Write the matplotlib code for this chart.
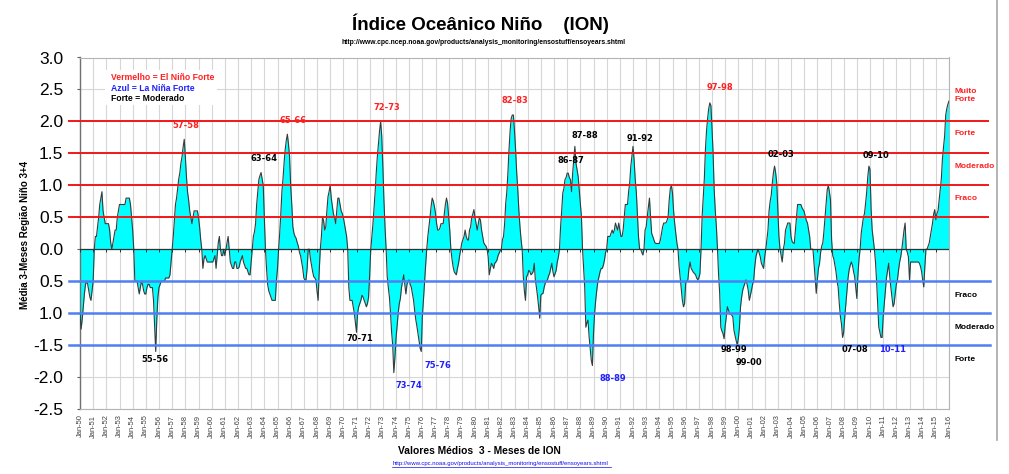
import numpy as np
import matplotlib
matplotlib.use("Agg")
import matplotlib.pyplot as plt
import matplotlib.transforms as mtransforms
from matplotlib.patches import Rectangle
from matplotlib.lines import Line2D

# 3-month running mean ONI, one value per month (Jan-50 ... Jan-16)
oni_1950s = [
    -1.0, -1.25, -1.1, -0.9, -0.7, -0.55, -0.5, -0.55, -0.65, -0.75, -0.8, -0.65,
    -0.5, 0.0, 0.2, 0.2, 0.35, 0.5, 0.7, 0.8, 0.9, 0.6, 0.5, 0.4,
    0.4, 0.4, 0.4, 0.3, 0.1, 0.0, 0.1, 0.2, 0.3, 0.3, 0.5, 0.6,
    0.7, 0.7, 0.7, 0.7, 0.7, 0.7, 0.8, 0.8, 0.8, 0.8, 0.7, 0.5,
    0.3, 0.0, -0.5, -0.5, -0.5, -0.6, -0.7, -0.6, -0.5, -0.55, -0.65, -0.7,
    -0.7, -0.6, -0.55, -0.55, -0.6, -0.6, -0.6, -0.8, -1.2, -1.6, -1.1, -0.75,
    -0.6, -0.55, -0.5, -0.5, -0.5, -0.5, -0.45, -0.45, -0.45, -0.45, -0.4, -0.2,
    0.0, 0.2, 0.45, 0.7, 0.8, 0.95, 1.1, 1.2, 1.35, 1.45, 1.6, 1.72,
    1.45, 1.14, 0.9, 0.77, 0.6, 0.5, 0.4, 0.5, 0.6, 0.6, 0.6, 0.6,
    0.5, 0.35, 0.15, 0.0, -0.3, -0.15, -0.1, -0.15, -0.2, -0.2, -0.2, -0.2,
]
oni_1960s = [
    -0.2, -0.2, -0.15, -0.1, -0.3, -0.1, 0.1, 0.2, 0.0, -0.1, -0.1, 0.0,
    -0.1, 0.0, 0.1, 0.2, 0.0, -0.2, -0.25, -0.3, -0.3, -0.2, -0.2, -0.3,
    -0.3, -0.28, -0.2, -0.15, -0.1, -0.2, -0.25, -0.3, -0.3, -0.35, -0.4, -0.4,
    -0.2, 0.0, 0.2, 0.27, 0.4, 0.7, 0.9, 1.09, 1.15, 1.2, 1.1, 1.0,
    0.5, 0.0, -0.3, -0.55, -0.65, -0.7, -0.75, -0.8, -0.8, -0.8, -0.8, -0.5,
    -0.3, 0.0, 0.25, 0.55, 0.9, 1.1, 1.35, 1.56, 1.7, 1.8, 1.65, 1.45,
    1.0, 0.7, 0.35, 0.25, 0.2, 0.17, 0.1, 0.05, -0.05, -0.1, -0.2, -0.3,
    -0.45, -0.48, -0.48, -0.3, 0.0, 0.0, -0.15, -0.25, -0.35, -0.43, -0.45, -0.48,
    -0.65, -0.8, -0.35, 0.0, 0.2, 0.5, 0.45, 0.3, 0.35, 0.6, 0.82, 0.9,
    1.0, 0.8, 0.67, 0.55, 0.5, 0.4, 0.6, 0.8, 0.8, 0.7, 0.6, 0.56,
]
oni_1970s = [
    0.5, 0.4, 0.3, 0.2, 0.0, -0.6, -0.8, -0.8, -0.8, -0.9, -1.0, -1.15,
    -1.3, -1.0, -0.9, -0.85, -0.8, -0.72, -0.75, -0.8, -0.85, -0.9, -0.85, -0.75,
    -0.4, 0.0, 0.2, 0.4, 0.65, 0.9, 1.2, 1.45, 1.65, 1.85, 2.0, 1.77,
    1.3, 0.77, 0.35, 0.0, -0.43, -0.6, -0.75, -1.0, -1.3, -1.5, -1.93, -1.7,
    -1.4, -1.2, -1.0, -0.85, -0.77, -0.6, -0.5, -0.4, -0.55, -0.7, -0.55, -0.5,
    -0.48, -0.55, -0.6, -0.7, -0.8, -0.96, -1.1, -1.2, -1.32, -1.45, -1.55, -1.6,
    -1.06, -0.8, -0.53, -0.25, 0.0, 0.2, 0.35, 0.5, 0.67, 0.8, 0.75, 0.67,
    0.56, 0.4, 0.3, 0.3, 0.33, 0.4, 0.4, 0.4, 0.55, 0.7, 0.8, 0.72,
    0.5, 0.3, 0.0, -0.15, -0.27, -0.35, -0.38, -0.4, -0.3, -0.22, -0.1, 0.0,
    0.1, 0.15, 0.2, 0.3, 0.2, 0.15, 0.14, 0.3, 0.35, 0.5, 0.55, 0.62,
]
oni_1980s = [
    0.5, 0.4, 0.3, 0.4, 0.5, 0.45, 0.3, 0.2, 0.1, 0.07, 0.05, 0.0,
    -0.12, -0.4, -0.3, -0.22, -0.25, -0.3, -0.22, -0.2, -0.17, -0.1, -0.06, -0.02,
    0.0, 0.15, 0.2, 0.4, 0.72, 0.9, 1.2, 1.56, 1.85, 2.05, 2.1, 2.1,
    1.85, 1.56, 1.2, 0.93, 0.6, 0.35, 0.15, 0.0, -0.43, -0.65, -0.8, -0.43,
    -0.4, -0.33, -0.35, -0.4, -0.38, -0.35, -0.22, -0.48, -0.6, -0.74, -0.9, -1.08,
    -0.72, -0.7, -0.69, -0.6, -0.53, -0.5, -0.48, -0.42, -0.38, -0.3, -0.22, -0.35,
    -0.43, -0.38, -0.33, -0.2, -0.12, 0.0, 0.35, 0.6, 0.88, 0.95, 1.09, 1.12,
    1.19, 1.19, 1.12, 1.09, 0.9, 1.19, 1.4, 1.61, 1.35, 1.25, 1.14, 0.93,
    0.7, 0.51, 0.0, -0.3, -0.6, -1.22, -1.15, -1.11, -1.37, -1.55, -1.74, -1.82,
    -1.32, -1.0, -0.8, -0.64, -0.5, -0.43, -0.35, -0.3, -0.3, -0.25, -0.17, -0.05,
]
oni_1990s = [
    0.0, 0.2, 0.2, 0.2, 0.25, 0.3, 0.25, 0.3, 0.41, 0.35, 0.3, 0.41,
    0.3, 0.2, 0.2, 0.3, 0.51, 0.7, 0.7, 0.7, 0.9, 1.04, 1.3, 1.45,
    1.61, 1.4, 1.1, 0.9, 0.56, 0.2, 0.0, 0.0, -0.05, -0.09, 0.0, 0.3,
    0.35, 0.51, 0.65, 0.8, 0.51, 0.25, 0.2, 0.15, 0.1, 0.09, 0.09, 0.09,
    0.09, 0.15, 0.25, 0.35, 0.41, 0.41, 0.41, 0.45, 0.51, 0.77, 0.95, 1.0,
    0.88, 0.6, 0.4, 0.25, 0.1, 0.0, -0.27, -0.45, -0.64, -0.8, -0.9, -0.85,
    -0.53, -0.5, -0.48, -0.3, -0.2, -0.3, -0.33, -0.36, -0.38, -0.4, -0.45, -0.48,
    -0.45, -0.38, 0.0, 0.51, 0.8, 1.1, 1.56, 1.85, 2.05, 2.2, 2.29, 2.25,
    1.9, 1.5, 0.93, 0.6, 0.35, 0.0, -0.4, -0.69, -1.22, -1.28, -1.32, -1.4,
    -1.2, -1.06, -0.9, -0.95, -1.01, -1.01, -1.03, -1.06, -1.27, -1.35, -1.43, -1.5,
]
oni_2000s = [
    -1.4, -1.22, -0.9, -0.75, -0.64, -0.58, -0.53, -0.48, -0.55, -0.64, -0.8, -0.72,
    -0.64, -0.55, -0.48, -0.27, -0.12, -0.05, 0.0, -0.06, -0.12, -0.22, -0.26, -0.3,
    -0.12, 0.0, 0.15, 0.3, 0.6, 0.75, 0.85, 1.04, 1.2, 1.3, 1.2, 1.04,
    0.62, 0.2, 0.0, -0.1, -0.2, 0.0, 0.09, 0.3, 0.35, 0.41, 0.41, 0.41,
    0.2, 0.12, 0.1, 0.09, 0.3, 0.5, 0.7, 0.7, 0.7, 0.7, 0.65, 0.62,
    0.59, 0.51, 0.45, 0.41, 0.3, 0.2, 0.0, 0.0, 0.0, -0.22, -0.45, -0.69,
    -0.48, -0.3, -0.22, -0.05, 0.05, 0.1, 0.28, 0.5, 0.7, 0.93, 1.0, 0.9,
    0.77, 0.15, -0.1, -0.15, -0.25, -0.35, -0.5, -0.6, -0.85, -1.05, -1.17, -1.38,
    -1.3, -1.06, -0.85, -0.64, -0.45, -0.32, -0.25, -0.2, -0.25, -0.35, -0.43, -0.6,
    -0.77, -0.4, -0.15, 0.0, 0.25, 0.38, 0.5, 0.56, 0.72, 0.9, 1.14, 1.3,
]
oni_2010s = [
    1.25, 0.62, 0.3, 0.15, 0.0, -0.2, -0.5, -0.85, -1.22, -1.3, -1.38, -1.38,
    -1.06, -0.85, -0.64, -0.45, -0.33, -0.22, -0.43, -0.6, -0.75, -0.9, -0.85, -0.69,
    -0.55, -0.48, -0.33, -0.2, -0.12, 0.0, 0.15, 0.3, 0.41, 0.0, -0.05, -0.12,
    -0.48, -0.2, -0.2, -0.2, -0.2, -0.2, -0.2, -0.2, -0.2, -0.22, -0.27, -0.35,
    -0.48, -0.59, -0.27, 0.0, 0.0, 0.05, 0.1, 0.2, 0.3, 0.41, 0.55, 0.62,
    0.46, 0.56, 0.6, 0.77, 0.95, 1.1, 1.41, 1.6, 1.77, 2.1, 2.2, 2.27,
    2.32,
]

tick_years = list(range(1950, 2017))
tick_labels = ["Jan-%02d" % (y % 100) for y in tick_years]

y_ticks = [3.0, 2.5, 2.0, 1.5, 1.0, 0.5, 0.0, -0.5, -1.0, -1.5, -2.0, -2.5]
y_tick_labels = ["3.0", "2.5", "2.0", "1.5", "1.0", "0.5", "0.0", "0.5", "1.0", "-1.5", "-2.0", "-2.5"]

el_nino_levels = [0.5, 1.0, 1.5, 2.0]
la_nina_levels = [-0.5, -1.0, -1.5]

# event labels: text, x (year), y (index value), colour
event_labels = [
    ("57-58", 1958.03, 1.93, "#ff2020"),
    ("55-56", 1955.72, -1.72, "black"),
    ("63-64", 1963.99, 1.42, "black"),
    ("65-66", 1966.20, 2.01, "#ff2020"),
    ("72-73", 1973.29, 2.21, "#ff2020"),
    ("70-71", 1971.26, -1.39, "black"),
    ("73-74", 1974.96, -2.14, "#2020ff"),
    ("75-76", 1977.15, -1.82, "#2020ff"),
    ("82-83", 1983.01, 2.33, "#ff2020"),
    ("87-88", 1988.34, 1.78, "black"),
    ("86-87", 1987.30, 1.39, "black"),
    ("91-92", 1992.52, 1.73, "black"),
    ("88-89", 1990.43, -2.02, "#2020ff"),
    ("97-98", 1998.60, 2.53, "#ff2020"),
    ("02-03", 2003.23, 1.48, "black"),
    ("98-99", 1999.68, -1.57, "black"),
    ("99-00", 2000.81, -1.77, "black"),
    ("07-08", 2008.85, -1.57, "black"),
    ("09-10", 2010.49, 1.47, "black"),
    ("10-11", 2011.71, -1.57, "#2020ff"),
]

# intensity labels on the right
right_labels = [
    ("Muito\nForte", 2.41, "#ff2020"),
    ("Forte", 1.81, "#ff2020"),
    ("Moderado", 1.29, "#ff2020"),
    ("Fraco", 0.80, "#ff2020"),
    ("Fraco", -0.73, "black"),
    ("Moderado", -1.22, "black"),
    ("Forte", -1.72, "black"),
]


oni = np.array(oni_1950s + oni_1960s + oni_1970s + oni_1980s + oni_1990s + oni_2000s + oni_2010s)
t = 1950 + np.arange(len(oni)) / 12.0

W, H = 1009, 474
fig = plt.figure(figsize=(W / 100, H / 100), dpi=100)
fig.patch.set_facecolor("white")
ax = fig.add_axes([80 / W, 1 - 409 / H, 869 / W, 351.5 / H])

ax.fill_between(t, oni, 0, color="#00ffff", lw=0, zorder=2)
ax.plot(t, oni, color="#3a3a3a", lw=0.8, zorder=3)

ax.set_xlim(1950, 2016)
ax.set_ylim(-2.5, 3.0)

ax.set_xticks(tick_years)
ax.set_xticklabels(tick_labels, rotation=90, fontsize=5.4, color="#404040",
                   family="Liberation Sans")
ax.tick_params(axis="x", length=0, pad=4)
ax.set_yticks(y_ticks)
ax.set_yticklabels(y_tick_labels, fontsize=12.5, family="Liberation Sans")
ax.tick_params(axis="y", length=2.5, width=0.8, color="#606060", pad=9.5)
ax.grid(True, color="#d6d6d6", lw=0.8, zorder=0)
ax.set_axisbelow(True)

for side in ["top", "right", "bottom"]:
    ax.spines[side].set_color("#b4b4b4")
    ax.spines[side].set_linewidth(0.8)
ax.spines["left"].set_color("#707070")
ax.spines["left"].set_linewidth(1.0)

# zero axis with small year ticks
ax.axhline(0, color="#303030", lw=0.9, zorder=4)
ax.vlines(tick_years, -0.045, 0, color="#303030", lw=0.7, zorder=4)

# threshold lines, running out of the plot area on both sides
trans = mtransforms.blended_transform_factory(ax.transAxes, ax.transData)
for lvl in el_nino_levels:
    ax.plot([-0.0127, 1.0449], [lvl, lvl], transform=trans, clip_on=False,
            color="#f01818", lw=1.4, zorder=5)
for lvl in la_nina_levels:
    ax.plot([-0.0127, 1.0472], [lvl, lvl], transform=trans, clip_on=False,
            color="#4f7ff2", lw=1.8, zorder=5)

for txt, x, y, c in event_labels:
    ax.text(x, y, txt, color=c, fontsize=6, fontweight="bold", family="DejaVu Sans",
            ha="center", va="center", zorder=6)

for txt, y, c in right_labels:
    ax.text(1.006, y, txt, transform=trans, color=c, fontsize=6, fontweight="bold",
            family="Liberation Sans", ha="left", va="center", linespacing=1.25,
            clip_on=False)

# little legend in the top-left corner
fig.patches.append(Rectangle((105 / W, 1 - 105 / H), 112 / W, 35 / H,
                             transform=fig.transFigure, facecolor="white",
                             edgecolor="none", zorder=1))
legend_lines = [("Vermelho = El Niño Forte", "#ff2020", 77.7),
                ("Azul = La Niña Forte", "#2020ff", 88.3),
                ("Forte = Moderado", "black", 98.7)]
for txt, c, py in legend_lines:
    fig.text(111 / W, 1 - py / H, txt, color=c, fontsize=6.2, fontweight="bold",
             family="Liberation Sans", ha="left", va="center")

fig.text(480 / W, 1 - 24 / H, "Índice Oceânico Niño    (ION)", fontsize=13.5,
         fontweight="bold", family="Liberation Sans", ha="center", va="center")
fig.text(484 / W, 1 - 43 / H,
         "http://www.cpc.ncep.noaa.gov/products/analysis_monitoring/ensostuff/ensoyears.shtml",
         fontsize=4.85, fontweight="bold", family="Liberation Sans", ha="center", va="center")
fig.text(25 / W, 1 - 235 / H, "Média 3-Meses Região Niño 3+4", rotation=90,
         fontsize=7, fontweight="bold", family="Liberation Sans", ha="center", va="center")
fig.text(479 / W, 1 - 451 / H, "Valores Médios  3 - Meses de ION", fontsize=7.4,
         fontweight="bold", family="Liberation Sans", ha="center", va="center")
fig.text(501 / W, 1 - 464 / H,
         "http://www.cpc.noaa.gov/products/analysis_monitoring/ensostuff/ensoyears.shtml",
         fontsize=4.3, color="#1010ee", family="Liberation Sans", ha="center",
         va="center")
fig.add_artist(Line2D([392 / W, 611 / W], [1 - 467 / H, 1 - 467 / H],
                      transform=fig.transFigure, color="#1010ee", lw=0.5))

# outer frame line on the right
fig.add_artist(Line2D([997 / W, 997 / W], [1 - 440 / H, 1.0],
                      transform=fig.transFigure, color="#a8a8a8", lw=1.2))

fig.savefig("out.png", dpi=100)
